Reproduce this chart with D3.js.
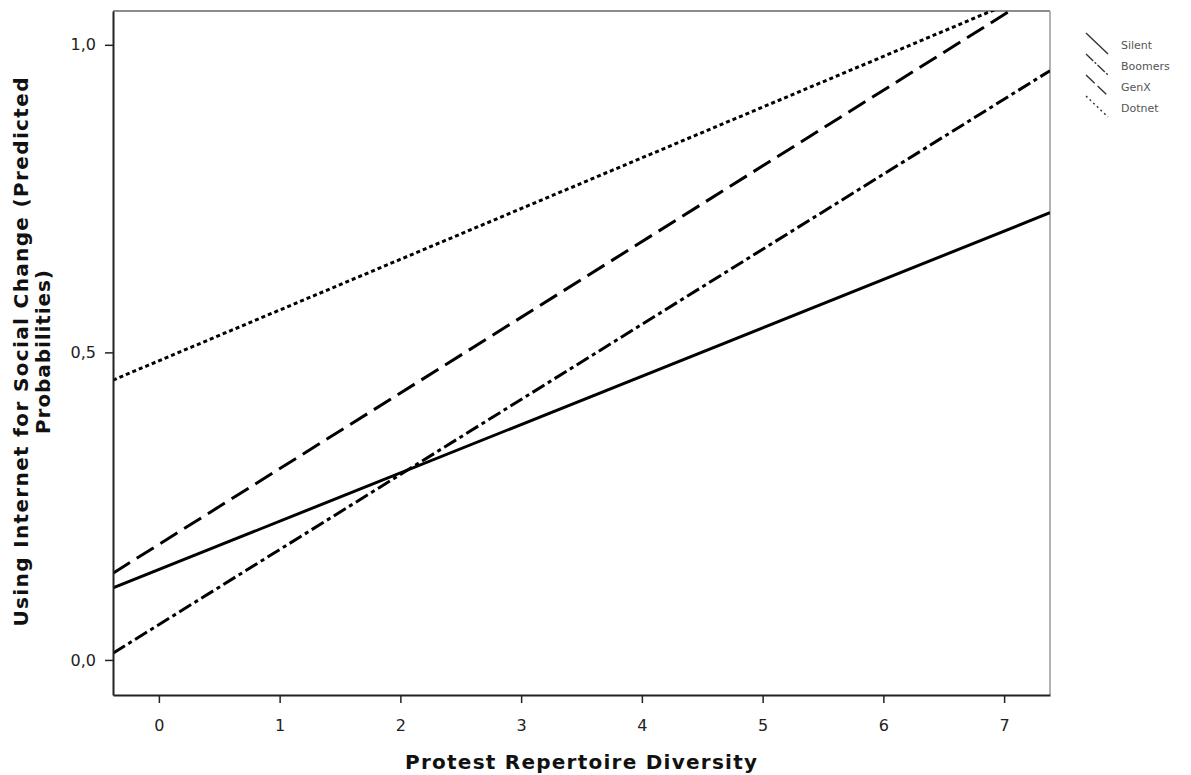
<!DOCTYPE html>
<html><head><meta charset="utf-8">
<script src="https://cdn.jsdelivr.net/npm/d3@7"></script>
<style>body{margin:0;background:#fff}svg{display:block}</style>
</head><body>
<script>
const xEnds = [-0.38, 7.38];
const seriesNames = ["Silent", "Boomers", "GenX", "Dotnet"];
const silent = [0.117, 0.727];
const boomers = [0.011, 0.958];
const genx = [0.141, 1.096];
const dotnet = [0.455, 1.095];
const xTicks = [0,1,2,3,4,5,6,7];
const yTicks = [0, 0.5, 1.0];
const dashes = [null, "14,4,4,4", "20,8", "4,3"];

const W = 1191, H = 775;
const FONT = "DejaVu Sans, Verdana, sans-serif";
const svg = d3.select("body").append("svg").attr("width", W).attr("height", H);
const L = 113, R = 1050, T = 11, B = 695;
const x = d3.scaleLinear().domain([-0.38, 7.38]).range([L, R]);
const y = d3.scaleLinear().domain([-0.057, 1.055]).range([B, T]);

svg.append("clipPath").attr("id","c").append("rect").attr("x",L).attr("y",T).attr("width",R-L).attr("height",B-T);

// frame top/right
svg.append("line").attr("x1",L).attr("x2",R).attr("y1",T).attr("y2",T).attr("stroke","#666").attr("stroke-width",1.5);
svg.append("line").attr("x1",R).attr("x2",R).attr("y1",T).attr("y2",B).attr("stroke","#999").attr("stroke-width",1.5);

const data = [silent, boomers, genx, dotnet];
const line = d3.line().x(d=>x(d[0])).y(d=>y(d[1]));
data.forEach((vals,i)=>{
  const pts = xEnds.map((xv,j)=>[xv, vals[j]]);
  const p = svg.append("path").attr("d", line(pts)).attr("fill","none").attr("stroke","#000")
    .attr("stroke-width",3).attr("clip-path","url(#c)");
  if (dashes[i]) p.attr("stroke-dasharray", dashes[i]);
});

const fmt = d => d3.format(".1f")(d).replace(".", ",");
const xa = svg.append("g").attr("transform",`translate(0,${B})`)
  .call(d3.axisBottom(x).tickValues(xTicks).tickSize(8).tickPadding(17).tickSizeOuter(0));
const ya = svg.append("g").attr("transform",`translate(${L},0)`)
  .call(d3.axisLeft(y).tickValues(yTicks).tickFormat(fmt).tickSize(8).tickPadding(9).tickSizeOuter(0));
[xa, ya].forEach(a=>{
  a.select(".domain").attr("stroke","#222").attr("stroke-width",2);
  a.selectAll(".tick line").attr("stroke","#222").attr("stroke-width",1.5);
  a.selectAll("text").attr("font-family",FONT).attr("font-size",16).attr("fill","#222");
});

svg.append("text").attr("x", 581).attr("y", 769).attr("text-anchor","middle")
  .attr("font-family",FONT).attr("font-weight","bold").attr("font-size",20)
  .attr("textLength",352).attr("lengthAdjust","spacing")
  .attr("fill","#111").text("Protest Repertoire Diversity");
const yt = svg.append("text").attr("transform","translate(28,352) rotate(-90)").attr("text-anchor","middle")
  .attr("font-family",FONT).attr("font-weight","bold").attr("font-size",20).attr("fill","#111");
yt.append("tspan").attr("x",0).attr("y",0).attr("textLength",549).attr("lengthAdjust","spacing")
  .text("Using Internet for Social Change (Predicted");
yt.append("tspan").attr("x",0).attr("y",22).attr("textLength",164).attr("lengthAdjust","spacing")
  .text("Probabilities)");

// legend
const lg = svg.append("g");
seriesNames.forEach((n,i)=>{
  const yy = 45 + i*21;
  const l = lg.append("line").attr("x1",1086).attr("y1",yy-12).attr("x2",1108).attr("y2",yy+9)
    .attr("stroke","#333").attr("stroke-width",1.4);
  if (i===1) l.attr("stroke-dasharray","10,2,2,2");
  if (i===2) l.attr("stroke-dasharray","12,4");
  if (i===3) l.attr("stroke-dasharray","2,3");
  lg.append("text").attr("x",1121).attr("y",yy+4).attr("font-family",FONT)
    .attr("font-size",11).attr("fill","#555").text(n);
});
</script>
</body></html>
